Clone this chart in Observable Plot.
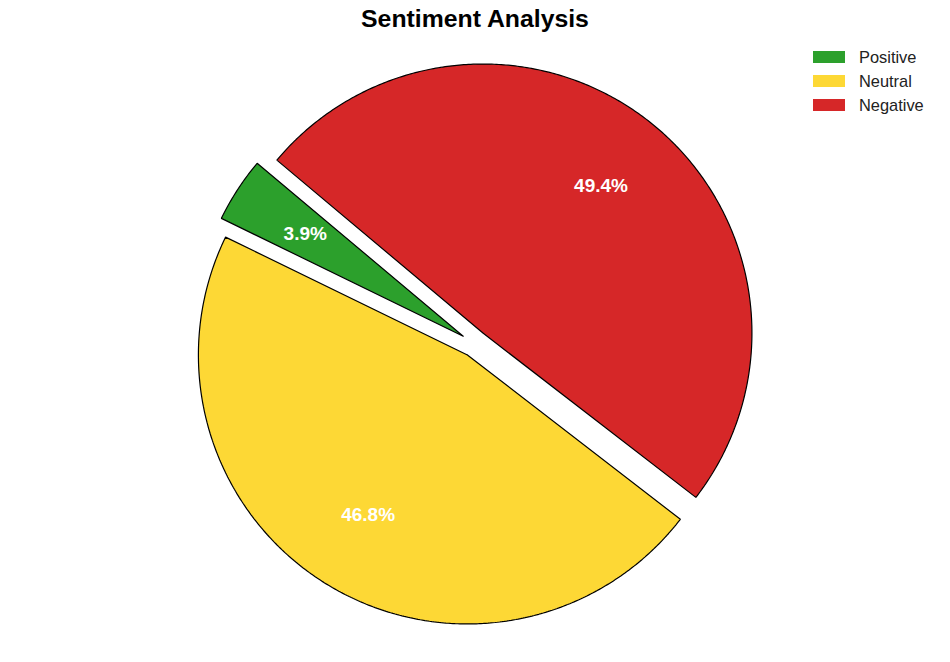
<!DOCTYPE html>
<html>
<head>
<meta charset="utf-8">
<script src="https://cdn.jsdelivr.net/npm/d3@7"></script>
<script src="https://cdn.jsdelivr.net/npm/@observablehq/plot@0.6"></script>
<style>
  html, body { margin: 0; padding: 0; background: #fff; }
  #wrap { position: relative; width: 950px; height: 662px; overflow: hidden; font-family: "Liberation Sans", Arial, sans-serif; }
  #title { position: absolute; left: 0; width: 950px; top: 5px; text-align: center; font-size: 24.8px; font-weight: bold; color: #000; line-height: 28px; }
  #legend { position: absolute; top: 45px; left: 813px; }
  #legend, #legend * { font-size: 16.4px !important; font-family: "Liberation Sans", Arial, sans-serif !important; color: #222; }
  #chart { position: absolute; left: 0; top: 0; }
</style>
</head>
<body>
<div id="wrap">
  <div id="chart"></div>
  <div id="title">Sentiment Analysis</div>
  <div id="legend"></div>
</div>
<script>
// ---- data ----
const categories = ["Positive", "Neutral", "Negative"];
const percents = [3.9, 46.8, 49.4];
const colors = ["#2ca02c", "#fdd835", "#d62728"];
const explode = [0.05, 0.05, 0.05];
const startAngle = 140; // degrees, counter-clockwise from +x

// ---- layout ----
const W = 950, H = 662;
const cx = 474, cy = 343, R = 269; // pixels

const total = d3.sum(percents);
let acc = startAngle;
const slices = categories.map((c, i) => {
  const a0 = acc;
  const a1 = acc + percents[i] / total * 360;
  acc = a1;
  const mid = (a0 + a1) / 2 * Math.PI / 180;
  const ox = explode[i] * Math.cos(mid), oy = explode[i] * Math.sin(mid);
  return {category: c, value: percents[i], a0, a1, mid, ox, oy};
});

const pts = [];
for (const s of slices) {
  pts.push({category: s.category, x: s.ox, y: s.oy});
  const n = Math.max(2, Math.ceil((s.a1 - s.a0) / 0.5));
  for (let k = 0; k <= n; k++) {
    const a = (s.a0 + (s.a1 - s.a0) * k / n) * Math.PI / 180;
    pts.push({category: s.category, x: s.ox + Math.cos(a), y: s.oy + Math.sin(a)});
  }
  pts.push({category: s.category, x: s.ox, y: s.oy});
}

const labels = slices.map(s => ({
  x: s.ox + 0.7 * Math.cos(s.mid),
  y: s.oy + 0.7 * Math.sin(s.mid),
  text: s.value.toFixed(1) + "%"
}));

const chart = Plot.plot({
  width: W, height: H,
  margin: 0,
  style: {fontFamily: "Liberation Sans, Arial, sans-serif", background: "white"},
  x: {domain: [-cx / R, (W - cx) / R], axis: null},
  y: {domain: [-(H - cy) / R, cy / R], axis: null},
  color: {domain: categories, range: colors},
  marks: [
    Plot.line(pts, {x: "x", y: "y", z: "category", fill: "category", stroke: "black", strokeWidth: 1.2, strokeLinejoin: "miter", curve: "linear"}),
    Plot.text(labels, {x: "x", y: "y", text: "text", fill: "white", fontSize: 19, fontWeight: "bold"})
  ]
});
document.getElementById("chart").appendChild(chart);

const leg = chart.legend("color", {columns: 1, swatchWidth: 32, swatchHeight: 12});
document.getElementById("legend").appendChild(leg);
leg.querySelectorAll("svg").forEach(svg => {
  svg.style.marginRight = "14px";
  const row = svg.parentElement;
  row.style.height = "24px";
  row.style.display = "flex";
  row.style.alignItems = "center";
  row.style.paddingBottom = "0";
});
</script>
</body>
</html>
